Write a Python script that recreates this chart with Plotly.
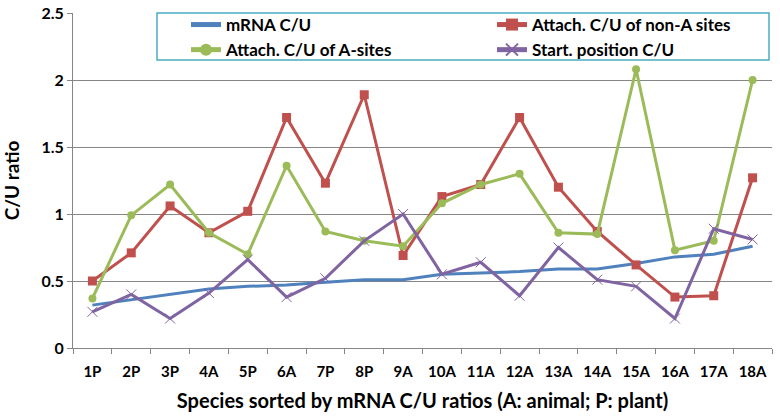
import plotly.graph_objects as go

categories = ["1P","2P","3P","4A","5P","6A","7P","8P","9A","10A","11A","12A","13A","14A","15A","16A","17A","18A"]
mrna = [0.32,0.36,0.40,0.44,0.46,0.47,0.49,0.51,0.51,0.55,0.56,0.57,0.59,0.59,0.63,0.68,0.70,0.76]
non_a = [0.50,0.71,1.06,0.86,1.02,1.72,1.23,1.89,0.69,1.13,1.22,1.72,1.20,0.87,0.62,0.38,0.39,1.27]
a_sites = [0.37,0.99,1.22,0.86,0.70,1.36,0.87,0.80,0.76,1.08,1.22,1.30,0.86,0.85,2.08,0.73,0.80,2.00]
start_pos = [0.27,0.40,0.22,0.41,0.66,0.38,0.52,0.80,1.00,0.55,0.64,0.39,0.75,0.51,0.46,0.22,0.89,0.81]

FONT = "Lato"
fig = go.Figure()
fig.add_trace(go.Scatter(x=categories, y=mrna, name="mRNA C/U", mode="lines",
                         line=dict(color="#4F81BD", width=3)))
fig.add_trace(go.Scatter(x=categories, y=non_a, name="Attach. C/U of non-A sites", mode="lines+markers",
                         line=dict(color="#C0504D", width=3),
                         marker=dict(symbol="square", size=9, color="#C0504D")))
fig.add_trace(go.Scatter(x=categories, y=a_sites, name="Attach. C/U of A-sites", mode="lines+markers",
                         line=dict(color="#9BBB59", width=3),
                         marker=dict(symbol="circle", size=8, color="#9BBB59")))
fig.add_trace(go.Scatter(x=categories, y=start_pos, name="Start. position C/U", mode="lines+markers",
                         line=dict(color="#8064A2", width=3),
                         marker=dict(symbol="x-thin-open", size=10, line=dict(color="#8064A2", width=1))))

W, H = 780, 419
L, R, T, B = 73, 8, 13, 71
PX0, PX1, PY0, PY1 = 73, 772, 13, 348  # plot area in screen pixels
def px(x): return (x - PX0) / (PX1 - PX0)
def py(y): return (PY1 - y) / (PY1 - PY0)

fig.add_shape(type="rect", xref="paper", yref="paper",
              x0=px(157), x1=px(769), y0=py(60), y1=py(13),
              line=dict(color="#4BACC6", width=1.5), fillcolor="white", layer="below")

fig.update_layout(
    width=W, height=H,
    margin=dict(l=L, r=R, t=T, b=B, autoexpand=False),
    paper_bgcolor="white", plot_bgcolor="white",
    font=dict(family=FONT, color="#000000", size=15),
    showlegend=True,
    legend=dict(orientation="h", x=px(186), y=py(7), xanchor="left", yanchor="top",
                entrywidth=261, bgcolor="rgba(0,0,0,0)", borderwidth=0,
                font=dict(family=FONT, size=17, weight="bold"), tracegroupgap=0,
                itemsizing="constant"),
    xaxis=dict(type="category", showgrid=False, showline=True, linecolor="#868686", linewidth=1,
               ticks="outside", tickson="boundaries", ticklen=5, tickcolor="#868686",
               tickfont=dict(family=FONT, size=15, weight="bold"), automargin=False,
               ticklabelstandoff=10, ticklabeloverflow="allow",
               title=dict(text="Species sorted by mRNA C/U ratios (A: animal; P: plant)",
                          font=dict(family=FONT, size=20, weight="bold"), standoff=14),
               range=[-0.5, 17.5]),
    yaxis=dict(range=[0, 2.5], dtick=0.5, showgrid=True, gridcolor="#868686", gridwidth=1,
               showline=True, linecolor="#868686", linewidth=1, zeroline=False,
               ticks="outside", ticklen=5, tickcolor="#868686", automargin=False,
               ticklabeloverflow="allow",
               tickfont=dict(family=FONT, size=16, weight="bold"),
               title=dict(text="C/U ratio", font=dict(family=FONT, size=19, weight="bold"), standoff=16)),
)
fig.write_html("out.html", config={"displayModeBar": False},
               post_script="document.body.style.margin='0';document.body.style.overflow='hidden';")
